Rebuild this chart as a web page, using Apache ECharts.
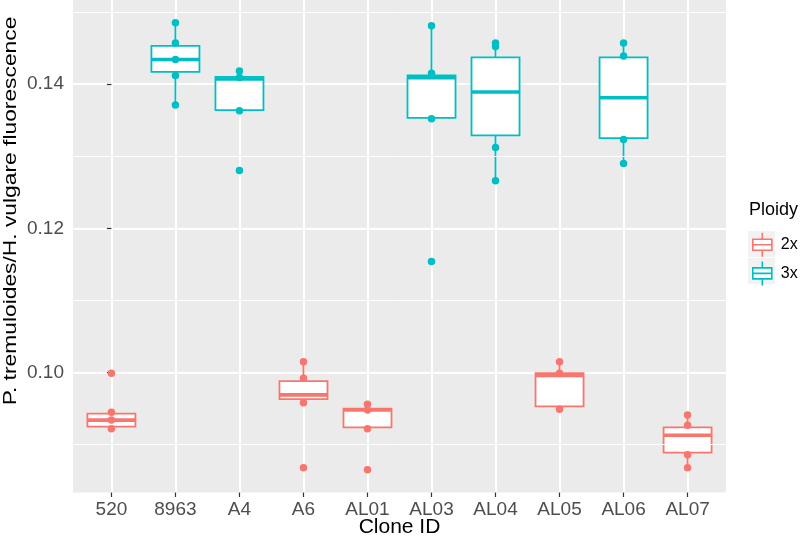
<!DOCTYPE html>
<html>
<head>
<meta charset="utf-8">
<script src="https://cdn.jsdelivr.net/npm/echarts@6/dist/echarts.min.js"></script>
<style>html,body{margin:0;padding:0;background:#fff;}#c{width:800px;height:540px;}</style>
</head>
<body>
<div id="c"></div>
<script>
// ---- data ----
const categories = ['520','8963','A4','A6','AL01','AL03','AL04','AL05','AL06','AL07'];
const ploidy = ['2x','3x','3x','2x','2x','3x','3x','2x','3x','2x'];
// box stats per clone: [lower whisker, Q1, median, Q3, upper whisker]
const boxStats = [
  [0.0922, 0.0925, 0.0934, 0.0943, 0.0945],
  [0.1371, 0.1417, 0.1434, 0.1453, 0.1485],
  [0.1363, 0.1364, 0.1407, 0.1410, 0.1418],
  [0.0958, 0.0963, 0.0969, 0.0988, 0.1015],
  [0.0922, 0.0924, 0.0948, 0.0950, 0.0956],
  [0.1352, 0.1353, 0.1409, 0.1412, 0.1481],
  [0.1266, 0.1329, 0.1389, 0.1437, 0.1457],
  [0.0949, 0.0953, 0.0996, 0.0999, 0.1015],
  [0.1290, 0.1325, 0.1381, 0.1437, 0.1457],
  [0.0868, 0.0889, 0.0913, 0.0924, 0.0941]
];
// individual observations per clone
const points = [
  [0.0999, 0.0945, 0.0934, 0.0922],
  [0.1485, 0.1457, 0.1434, 0.1412, 0.1371],
  [0.1418, 0.1409, 0.1363, 0.1280],
  [0.1015, 0.0992, 0.0958, 0.0868],
  [0.0956, 0.0948, 0.0922, 0.0865],
  [0.1481, 0.1415, 0.1352, 0.1154],
  [0.1457, 0.1452, 0.1312, 0.1266],
  [0.1015, 0.0999, 0.0949],
  [0.1457, 0.1439, 0.1323, 0.1290],
  [0.0941, 0.0927, 0.0886, 0.0868]
];
const yTicks = [0.10, 0.12, 0.14];
const yMinor = [0.09, 0.11, 0.13, 0.15];
const groups = ['2x','3x'];
const colors = {'2x':'#F8766D','3x':'#00BFC4'};
const xTitle = 'Clone ID';
const yTitle = 'P. tremuloides/H. vulgare fluorescence';
const legendTitle = 'Ploidy';

// ---- build series ----
const FONT = 'Liberation Sans, Arial, sans-serif';
const HALF = 0.375; // half box width in category units
const series = [];
series.push({
  type:'scatter', data:[], silent:true, z:1,
  markLine:{silent:true, symbol:'none', label:{show:false}, animation:false,
    lineStyle:{color:'#ffffff', width:1, type:'solid'},
    data: yMinor.map(v=>({yAxis:v}))}
});
groups.forEach(g=>{
  const idx = categories.map((c,i)=>i).filter(i=>ploidy[i]===g);
  const col = colors[g];
  series.push({
    name:g, type:'custom', z:3, silent:true,
    itemStyle:{color:col},
    data: idx.map(i=>[i].concat(boxStats[i])),
    renderItem:(params, api)=>{
      const x = api.value(0);
      const lo = api.coord([x, api.value(1)]);
      const q1 = api.coord([x, api.value(2)]);
      const md = api.coord([x, api.value(3)]);
      const q3 = api.coord([x, api.value(4)]);
      const hi = api.coord([x, api.value(5)]);
      const L = api.coord([x-HALF, api.value(3)])[0];
      const R = api.coord([x+HALF, api.value(3)])[0];
      const lw = 1.8;
      return {type:'group', children:[
        {type:'line', shape:{x1:lo[0],y1:lo[1],x2:q1[0],y2:q1[1]}, style:{stroke:col,lineWidth:lw}},
        {type:'line', shape:{x1:q3[0],y1:q3[1],x2:hi[0],y2:hi[1]}, style:{stroke:col,lineWidth:lw}},
        {type:'rect', shape:{x:L, y:q3[1], width:R-L, height:q1[1]-q3[1]},
          style:{fill:'#ffffff', stroke:col, lineWidth:lw}},
        {type:'line', shape:{x1:L,y1:md[1],x2:R,y2:md[1]}, style:{stroke:col,lineWidth:3.6}}
      ]};
    }
  });
  const pts = [];
  idx.forEach(i=>points[i].forEach(v=>pts.push([i,v])));
  series.push({
    name:g+' points', type:'scatter', z:5, silent:true,
    symbolSize:7.5, itemStyle:{color:col, opacity:1},
    data: pts
  });
});

const legendIcon = 'path://M0 0M27 26M13.5 1L13.5 7.5M4 7.5L23 7.5L23 18.5L4 18.5ZM4 13L23 13M13.5 18.5L13.5 25';

const option = {
  animation:false,
  textStyle:{fontFamily:FONT},
  title:{text:legendTitle, left:749, top:201, padding:0,
    textStyle:{fontSize:18, fontWeight:'normal', color:'#000', fontFamily:FONT}},
  graphic:[
    {type:'rect', shape:{x:748,y:231,width:27,height:26}, style:{fill:'#F2F2F2'}, z:-1},
    {type:'rect', shape:{x:748,y:258,width:27,height:26}, style:{fill:'#F2F2F2'}, z:-1},
    {type:'text', x:11, y:211, rotation:Math.PI/2, scaleX:1.2, scaleY:1,
      style:{text:yTitle, font:'19px ' + FONT, fill:'#000', align:'center', verticalAlign:'middle'}}
  ],
  legend:{
    orient:'vertical', left:748, top:231, padding:0, itemGap:1,
    itemWidth:27, itemHeight:26, selectedMode:false,
    textStyle:{fontSize:16, color:'#000', fontFamily:FONT},
    data: groups.map(g=>({name:g, icon:legendIcon,
      itemStyle:{color:'#ffffff', borderColor:colors[g], borderWidth:1.6}}))
  },
  grid:{left:73, right:74, top:0, bottom:47.5, show:true, backgroundColor:'#EBEBEB',
    borderWidth:0, containLabel:false, outerBoundsMode:'none'},
  xAxis:{
    type:'value', min:-0.6, max:9.6,
    name:xTitle, nameLocation:'middle', nameGap:24, nameMoveOverlap:false,
    nameTextStyle:{fontSize:21, color:'#000', fontFamily:FONT},
    axisLine:{show:false},
    axisTick:{show:true, length:4.5, lineStyle:{color:'#333', width:1.2}, customValues:categories.map((c,i)=>i)},
    axisLabel:{show:true, margin:8, fontSize:19, color:'#4D4D4D', fontFamily:FONT,
      customValues:categories.map((c,i)=>i), formatter:v=>categories[Math.round(v)]},
    splitLine:{show:true, lineStyle:{color:'#ffffff', width:2}},
    minorSplitLine:{show:false}
  },
  yAxis:{
    type:'value', min:0.08336, max:0.15166,
    axisLine:{show:false},
    axisTick:{show:true, length:4.5, lineStyle:{color:'#333', width:1.2}, customValues:yTicks},
    axisLabel:{show:true, margin:9, fontSize:19, color:'#4D4D4D', fontFamily:FONT,
      customValues:yTicks, formatter:v=>v.toFixed(2)},
    splitLine:{show:true, lineStyle:{color:'#ffffff', width:2}}
  },
  series: series
};
const chart = echarts.init(document.getElementById('c'), null, {renderer:'canvas'});
chart.setOption(option);
</script>
</body>
</html>
